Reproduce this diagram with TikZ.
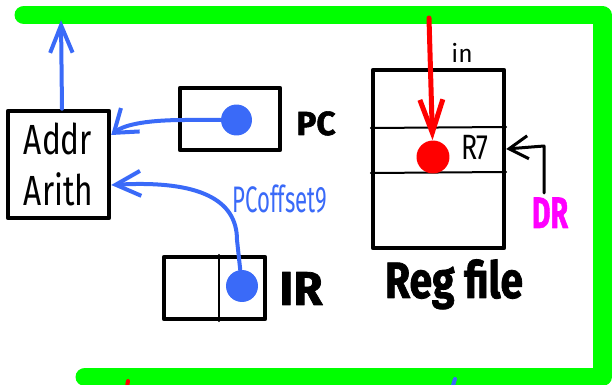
\documentclass[tikz,border=0pt]{standalone}
\usepackage{fontspec}
\setmainfont{Fira Sans}
\newfontfamily\markerfont{Fira Sans}[BoldFeatures={FakeBold=1.6}]
\usetikzlibrary{arrows.meta}
\definecolor{busgreen}{HTML}{00FF00}
\definecolor{wireblue}{HTML}{3A6AF8}
\definecolor{selpink}{HTML}{FF00FF}
\newcommand{\squeeze}[2]{\scalebox{#1}[1]{#2}}
\begin{document}
\begin{tikzpicture}[x=0.02cm,y=-0.02cm,line cap=round,line join=round]
\tikzset{
  frame/.style={draw=busgreen,line width=0.38cm},
  box/.style={draw,line width=0.09cm,inner sep=0pt},
  blob/.style={circle,inner sep=0pt,minimum size=0.64cm},
  wire/.style={line width=0.08cm},
  hand/.style={font=\fontsize{20}{24}\selectfont},
  heavy/.style={font=\markerfont\bfseries\fontsize{19}{19}\selectfont}
}
\useasboundingbox (0,0) rectangle (613,385);
\draw[frame] (85,377) -- (602,377) -- (602,15) -- (24,15);

\node[box,minimum width=2.02cm,minimum height=2.14cm,align=left,font=\fontsize{24}{29}\selectfont] (addr) at (58.5,164.5) {\squeeze{.75}{Addr}\\\squeeze{.75}{Arith}};
\node[box,minimum width=2cm,minimum height=1.24cm] (pc) at (230,119) {};
\node[box,minimum width=2.02cm,minimum height=1.24cm] (ir) at (214.5,288) {};
\draw[line width=0.04cm] (219,0 |- ir.north) -- (219,0 |- ir.south);
\node[box,minimum width=2.62cm,minimum height=3.56cm] (rf) at (438.5,159) {};
\draw[line width=0.04cm] (rf.west |- 0,128) -- (rf.east |- 0,127);
\draw[line width=0.04cm] (rf.west |- 0,173) -- (rf.east |- 0,172);

\node[blob,fill=wireblue,minimum size=0.62cm] (pcdot) at (236.5,120) {};
\node[blob,fill=wireblue] (irdot) at (242,286) {};
\node[blob,fill=red,minimum size=0.66cm] (r7dot) at (433,157) {};

\node[heavy,anchor=base] (pclabel) at (316,135) {PC};
\node[heavy,anchor=base,font=\markerfont\bfseries\fontsize{27}{27}\selectfont] (irlabel) at (301,305) {IR};
\node[heavy,anchor=base,font=\markerfont\bfseries\fontsize{29}{29}\selectfont] (rflabel) at (454,298) {\squeeze{.8}{Reg file}};
\node[hand,anchor=base] (r7label) at (475,160) {\squeeze{.76}{R7}};
\node[hand,anchor=base,font=\fontsize{14}{14}\selectfont] (inlabel) at (462,63) {in};
\node[hand,anchor=base,text=wireblue,font=\fontsize{21}{24}\selectfont] (offlabel) at (280,213) {\squeeze{.6}{PCoffset9}};
\node[heavy,anchor=base,text=selpink,font=\markerfont\bfseries\fontsize{25}{25}\selectfont] (drlabel) at (550,228) {\squeeze{.65}{DR}};

\coordinate (addrout) at (61,20);
\coordinate (rfin) at (429,18);
\coordinate (drsel) at (544,193);
\coordinate (redoff) at (125,398);
\coordinate (blueoff) at (449,398);

\draw[wire,wireblue,-{Straight Barb[length=0.55cm,width=0.45cm]}] (addr.north -| 62,0) -- (addrout);
\draw[wire,wireblue,-{Straight Barb[length=0.42cm,width=0.6cm]}] (pcdot) -- (185,120) .. controls (150,120) and (125,124) .. (addr.east |- 0,135);
\draw[wire,wireblue,-{Straight Barb[length=0.5cm,width=0.5cm]}] (irdot) -- (237,240) .. controls (237,200) and (200,180) .. (addr.east |- 0,185);
\draw[wire,red,line width=0.1cm,-{Straight Barb[length=0.66cm,width=0.46cm]}] (rfin) -- (r7dot);
\draw[wire,line width=0.06cm,-{Straight Barb[length=0.38cm,width=0.46cm]}] (drsel) -- (544,146) -- (rf.east |- 0,149);
\draw[wire,red] (128,381) -- (redoff);
\draw[wire,wireblue] (455,379) -- (blueoff);
\end{tikzpicture}
\end{document}
